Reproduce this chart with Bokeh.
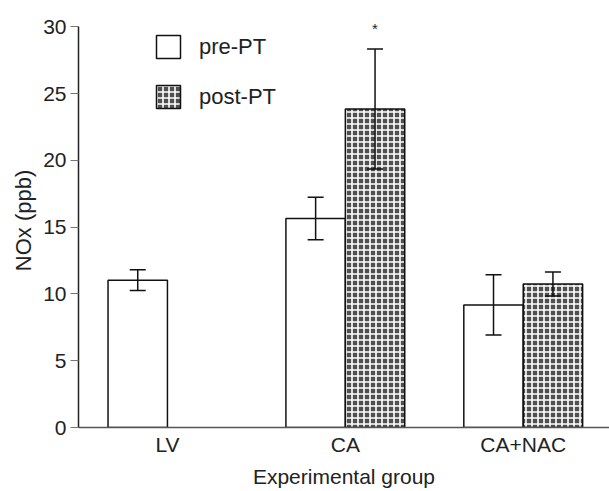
from bokeh.plotting import figure
from bokeh.models import (ColumnDataSource, Range1d, Whisker, TeeHead, Legend,
                          LegendItem, FixedTicker)
from bokeh.core.properties import value
from bokeh.embed import file_html
from bokeh.resources import INLINE

# ---- data ----
groups = ["LV", "CA", "CA+NAC"]
pre_groups = ["LV", "CA", "CA+NAC"]
pre_mean = [11.03, 15.65, 9.18]
pre_sem = [0.78, 1.60, 2.25]
post_groups = ["CA", "CA+NAC"]
post_mean = [23.85, 10.75]
post_sem = [4.50, 0.90]
sig_groups = ["CA"]
sig_marks = ["*"]
y_ticks = [0, 5, 10, 15, 20, 25, 30]

FONT = "Liberation Sans"
half = 0.167
gpos = {g: i + 1 for i, g in enumerate(groups)}

pre_src = ColumnDataSource(dict(
    x=[gpos[g] - half for g in pre_groups],
    top=pre_mean,
    upper=[m + s for m, s in zip(pre_mean, pre_sem)],
    lower=[m - s for m, s in zip(pre_mean, pre_sem)],
))
post_src = ColumnDataSource(dict(
    x=[gpos[g] + half for g in post_groups],
    top=post_mean,
    upper=[m + s for m, s in zip(post_mean, post_sem)],
    lower=[m - s for m, s in zip(post_mean, post_sem)],
))
sig_src = ColumnDataSource(dict(
    x=[gpos[g] + half for g in sig_groups],
    y=[post_mean[post_groups.index(g)] + post_sem[post_groups.index(g)] for g in sig_groups],
    text=sig_marks,
))

p = figure(width=609, height=491, output_backend="svg", toolbar_location=None,
           x_range=Range1d(0.5, 3.485), y_range=Range1d(0, 31),
           min_border_left=78, min_border_right=0, min_border_top=13,
           min_border_bottom=64)
p.outline_line_color = None
p.xgrid.visible = False
p.ygrid.visible = False
p.background_fill_color = "white"

w = 2 * half
r_pre = p.vbar(x="x", top="top", bottom=0, width=w, source=pre_src,
               fill_color="white", line_color="#111111", line_width=1.5)
r_post = p.vbar(x="x", top="top", bottom=0, width=w, source=post_src,
                fill_color="#505050", hatch_pattern="cross", hatch_color="white",
                hatch_scale=6, hatch_weight=1.6,
                line_color="#111111", line_width=1.5)

for src in (pre_src, post_src):
    wk = Whisker(base="x", upper="upper", lower="lower", source=src,
                 dimension="height", line_color="#111111", line_width=1.5,
                 upper_head=TeeHead(size=16, line_width=1.5, line_color="#111111"),
                 lower_head=TeeHead(size=16, line_width=1.5, line_color="#111111"))
    wk.level = "overlay"
    p.add_layout(wk)

p.text(x="x", y="y", text="text", source=sig_src, text_font=value(FONT),
       text_font_size="15px", text_color="#222222", text_align="center",
       text_baseline="bottom", y_offset=-12)

# axes
p.yaxis.ticker = FixedTicker(ticks=y_ticks)
p.yaxis.bounds = (0, 30)
p.yaxis.axis_label = "NOx (ppb)"
p.yaxis.axis_label_text_font = FONT
p.yaxis.axis_label_text_font_style = "normal"
p.yaxis.axis_label_text_font_size = "22px"
p.yaxis.axis_label_text_color = "#222222"
p.yaxis.axis_label_standoff = 4
p.yaxis.major_label_text_font = FONT
p.yaxis.major_label_text_font_size = "21px"
p.yaxis.major_label_text_color = "#222222"
p.yaxis.major_label_standoff = 4
p.yaxis.major_tick_out = 8
p.yaxis.major_tick_in = 0
p.yaxis.minor_tick_out = 0
p.yaxis.minor_tick_in = 0
p.yaxis.major_tick_line_color = "#777777"
p.yaxis.axis_line_color = "#222222"
p.yaxis.axis_line_width = 1.5

p.xaxis.ticker = FixedTicker(ticks=[gpos[g] for g in groups])
p.xaxis.major_label_overrides = {gpos[g]: g for g in groups}
p.xaxis.axis_label = "Experimental group"
p.xaxis.axis_label_text_font = FONT
p.xaxis.axis_label_text_font_style = "normal"
p.xaxis.axis_label_text_font_size = "21px"
p.xaxis.axis_label_text_color = "#222222"
p.xaxis.axis_label_standoff = 6
p.xaxis.major_label_text_font = FONT
p.xaxis.major_label_text_font_size = "21px"
p.xaxis.major_label_text_color = "#222222"
p.xaxis.major_label_standoff = 5
p.xaxis.major_tick_out = 0
p.xaxis.major_tick_in = 0
p.xaxis.minor_tick_out = 0
p.xaxis.minor_tick_in = 0
p.xaxis.axis_line_color = "#555555"
p.xaxis.axis_line_width = 1.5

legend = Legend(items=[LegendItem(label="pre-PT", renderers=[r_pre]),
                       LegendItem(label="post-PT", renderers=[r_post])],
                location=(75, 316), orientation="vertical",
                glyph_width=30, glyph_height=29, spacing=21, padding=0, margin=0,
                label_standoff=16, label_text_font=FONT, label_text_font_size="22px",
                label_text_color="#222222", border_line_color=None,
                background_fill_alpha=0)
p.add_layout(legend)

open("out.html", "w").write(file_html(p, INLINE))
